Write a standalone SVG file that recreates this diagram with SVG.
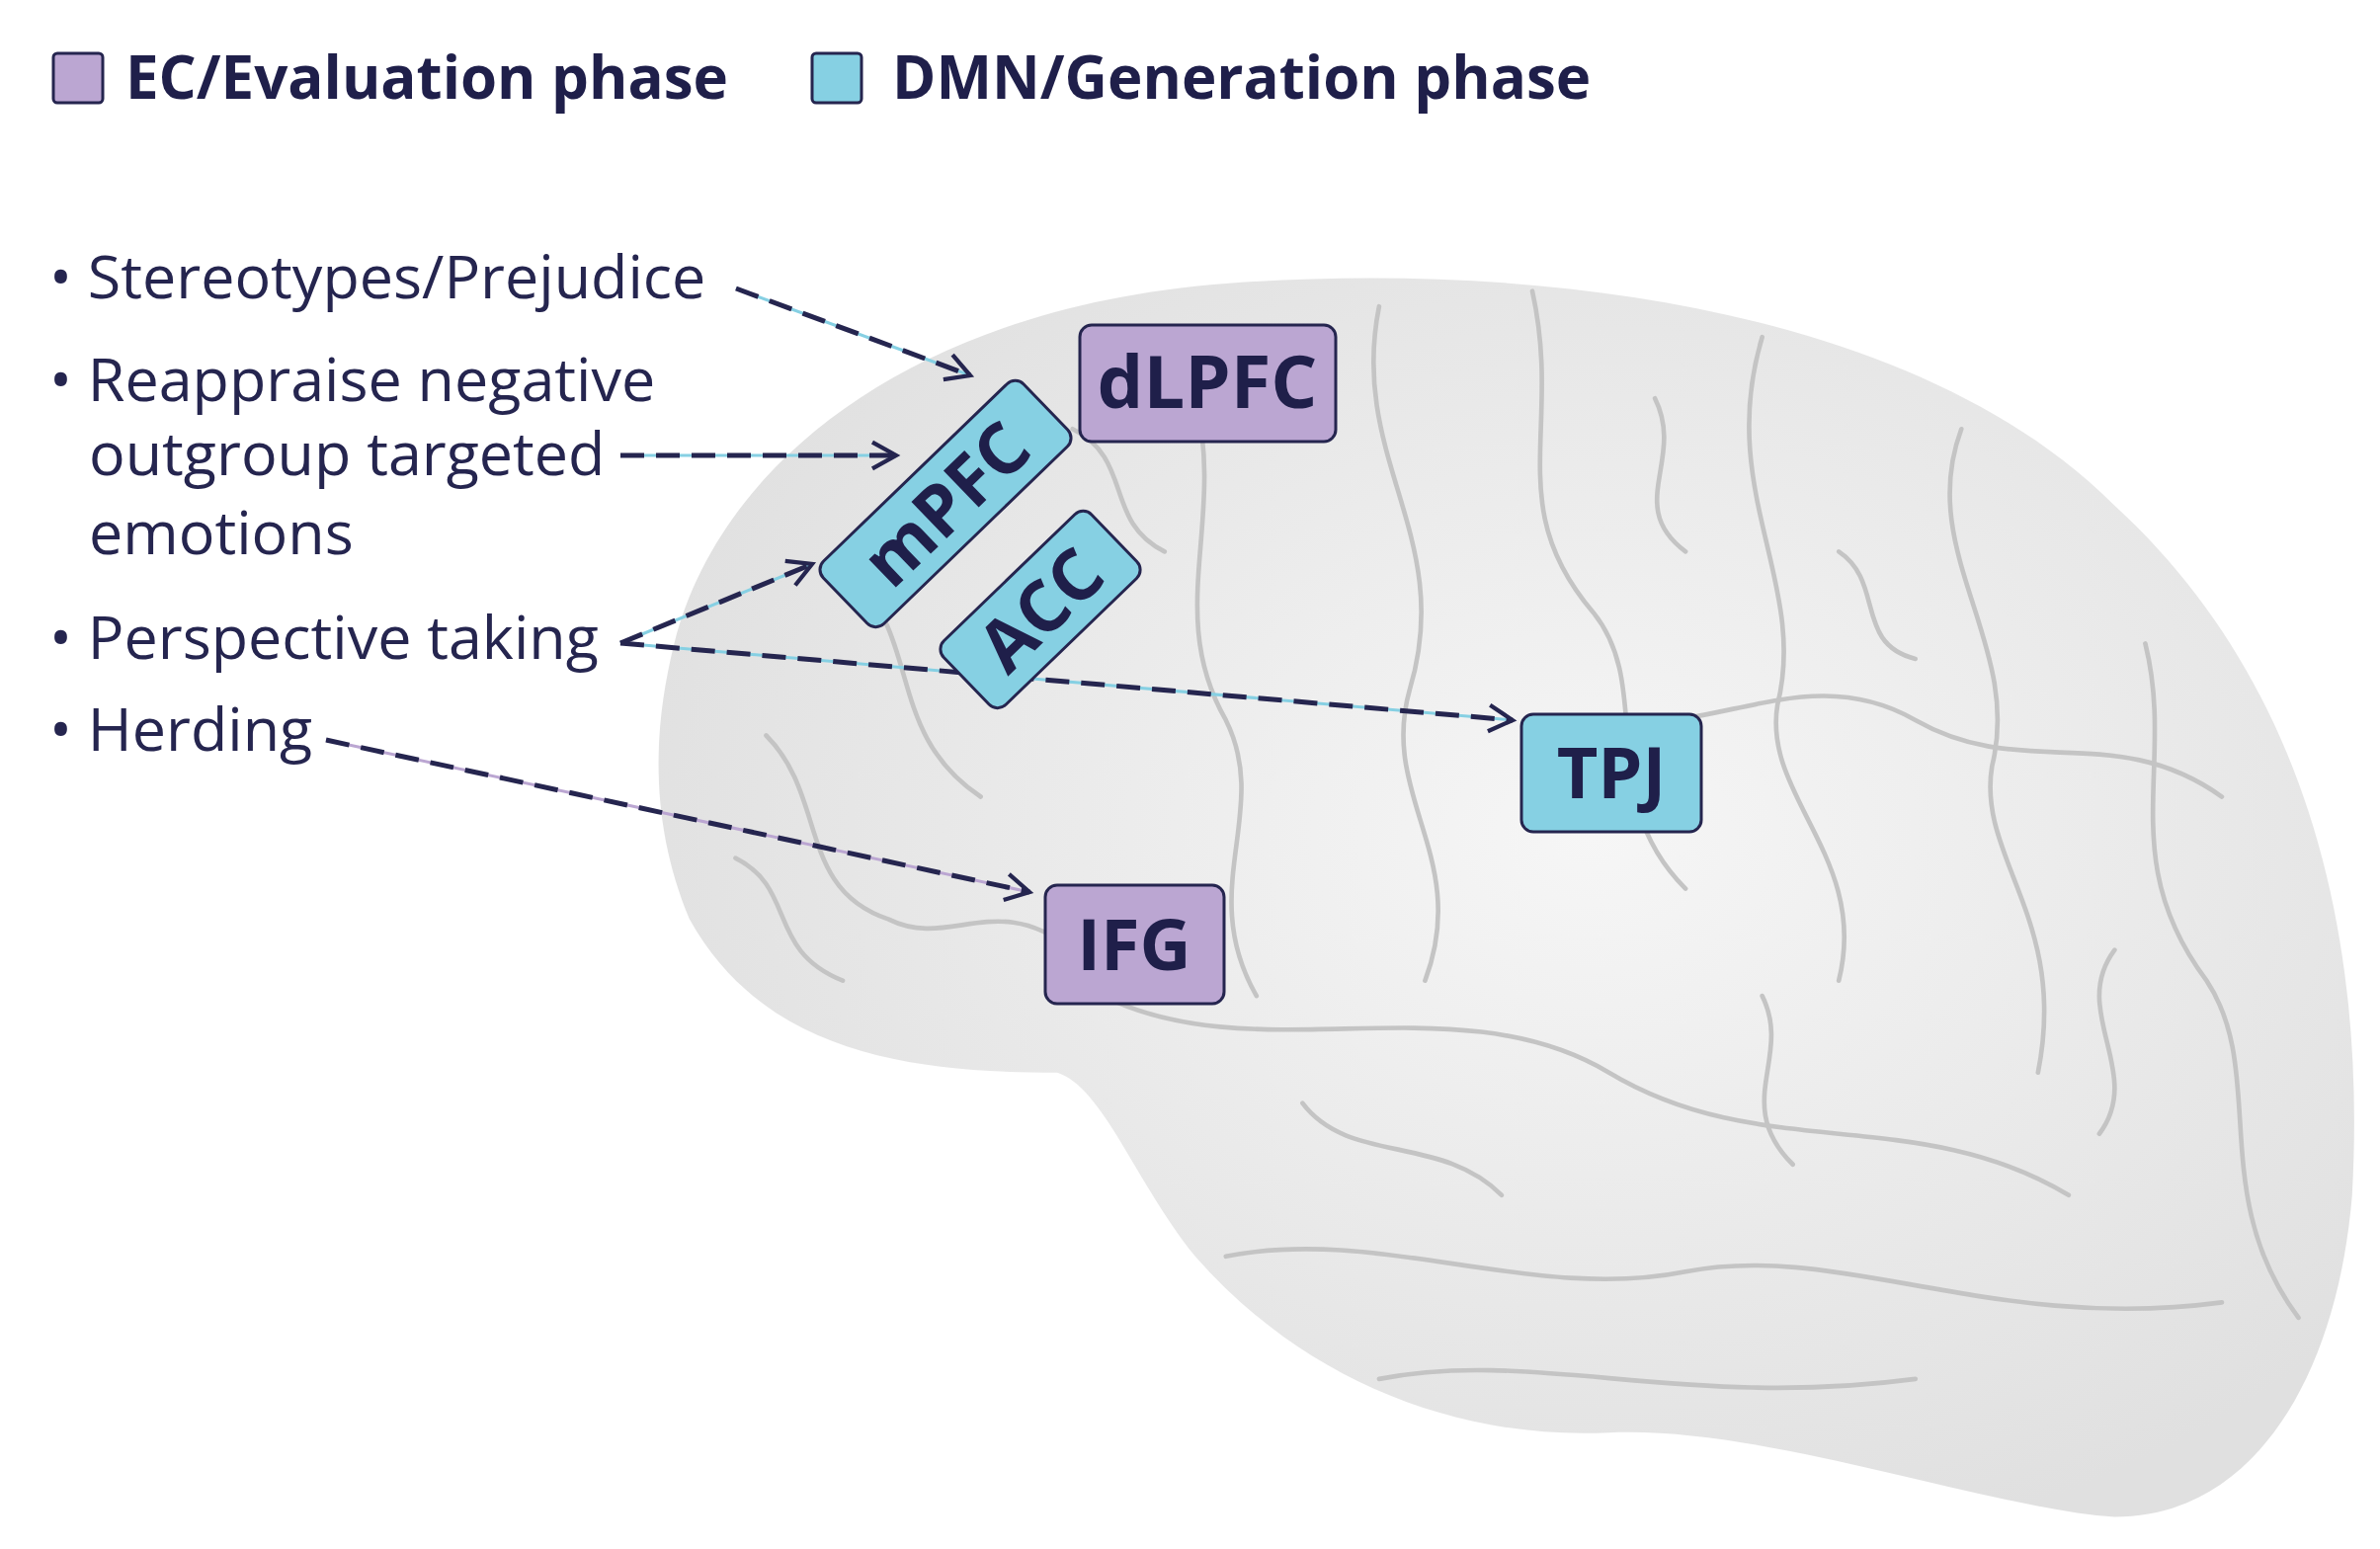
<svg xmlns="http://www.w3.org/2000/svg" width="2409" height="1568" viewBox="0 0 2409 1568">
<style>
.t{font-family:"Open Sans","Liberation Sans",sans-serif;fill:#25254f;font-size:61px}
.b{font-family:"Open Sans","Liberation Sans",sans-serif;fill:#1f1f4a;font-weight:bold}
.ec{fill:#bba6d2;stroke:#25254f;stroke-width:3}
.dmn{fill:#86d0e3;stroke:#25254f;stroke-width:3}
.dash{stroke:#25254f;stroke-width:5;stroke-dasharray:24 12;fill:none}
.gy{fill:none;stroke:#c4c4c4;stroke-linecap:round}
</style>
<defs>
<marker id="a" viewBox="0 0 12 12" refX="10" refY="6" markerWidth="32" markerHeight="32" orient="auto" markerUnits="userSpaceOnUse"><path d="M1,1 L10,6 L1,11" fill="none" stroke="#25254f" stroke-width="1.6"/></marker>
<radialGradient id="bg" cx="0.55" cy="0.45" r="0.6"><stop offset="0" stop-color="#f6f6f6"/><stop offset="1" stop-color="#e0e0e0"/></radialGradient>
</defs>
<rect width="2409" height="1568" fill="#fff"/>
<g id="brain" transform="scale(1.551)">
<path d="M440,420 C470,300 600,200 800,185 C1000,170 1250,200 1380,330 C1500,440 1545,600 1535,780 C1525,900 1470,990 1380,990 C1300,985 1150,930 1050,935 C950,940 850,900 780,820 C740,770 720,710 690,700 C600,700 500,690 450,600 C425,540 425,480 440,420 Z" fill="url(#bg)"/>
<g class="gy" stroke-width="3">
<path d="M900,200 C880,300 950,350 920,450 C900,520 960,560 930,640"/>
<path d="M1000,190 C1020,280 980,330 1040,400 C1080,450 1040,520 1100,580"/>
<path d="M1150,220 C1120,320 1180,380 1160,460 C1150,520 1220,560 1200,640"/>
<path d="M1280,280 C1250,360 1320,420 1300,500 C1290,560 1350,600 1330,700"/>
<path d="M780,260 C800,340 760,400 800,470 C830,530 780,580 820,650"/>
<path d="M720,650 C820,700 950,640 1050,700 C1150,760 1250,720 1350,780"/>
<path d="M800,820 C900,800 1000,850 1100,830 C1200,810 1300,870 1450,850"/>
<path d="M900,900 C1000,880 1100,920 1250,900"/>
<path d="M500,480 C540,520 520,580 580,600 C620,620 650,580 700,620"/>
<path d="M1400,420 C1420,500 1380,560 1440,640 C1480,700 1440,780 1500,860"/>
<path d="M1050,470 C1120,480 1180,430 1250,470 C1320,510 1380,470 1450,520"/>
<path d="M560,380 C600,420 580,480 640,520"/>
<path d="M700,280 C740,300 720,340 760,360"/>
<path d="M1080,260 C1100,300 1060,330 1100,360"/>
<path d="M1200,360 C1230,380 1210,420 1250,430"/>
<path d="M850,720 C880,760 940,740 980,780"/>
<path d="M1150,650 C1170,690 1130,720 1170,760"/>
<path d="M1380,620 C1350,660 1400,700 1370,740"/>
<path d="M480,560 C520,580 500,620 550,640"/>
</g>
</g>
<g id="legend">
<rect x="54" y="54" width="50" height="50" rx="4" class="ec"/>
<text x="127" y="100" class="b" font-size="60">EC/Evaluation phase</text>
<rect x="822" y="54" width="50" height="50" rx="4" class="dmn"/>
<text x="903" y="100" class="b" font-size="60">DMN/Generation phase</text>
</g>
<g id="labels" class="t">
<text x="50" y="302">• Stereotypes/Prejudice</text>
<text x="50" y="406">• Reappraise negative</text>
<text x="90" y="481">outgroup targeted</text>
<text x="90" y="561">emotions</text>
<text x="50" y="667">• Perspective taking</text>
<text x="50" y="760">• Herding</text>
</g>
<g id="connectors">
<g stroke-width="3" fill="none">
<path d="M745,292 L982,380" stroke="#86d0e3"/>
<path d="M628,461 L907,461" stroke="#86d0e3"/>
<path d="M628,651 L822,571" stroke="#86d0e3"/>
<path d="M628,651 L1531,729" stroke="#86d0e3"/>
<path d="M330,749 L1042,903" stroke="#bba6d2"/>
</g>
<path d="M745,292 L982,380" class="dash" marker-end="url(#a)"/>
<path d="M628,461 L907,461" class="dash" marker-end="url(#a)"/>
<path d="M628,651 L822,571" class="dash" marker-end="url(#a)"/>
<path d="M628,651 L1531,729" class="dash" marker-end="url(#a)"/>
<path d="M330,749 L1042,903" class="dash" marker-end="url(#a)"/>
</g>
<g id="dLPFC"><rect x="1093" y="329" width="259" height="118" rx="12" class="ec"/><text x="1222" y="413" class="b" font-size="74" text-anchor="middle">dLPFC</text></g>
<g id="mPFC" transform="translate(957,510) rotate(-44)"><rect x="-141" y="-44" width="282" height="88" rx="12" class="dmn"/><text x="0" y="26" class="b" font-size="72" text-anchor="middle">mPFC</text></g>
<g id="ACC" transform="translate(1053,617) rotate(-44)"><rect x="-104" y="-45" width="208" height="90" rx="12" class="dmn"/><text x="0" y="26" class="b" font-size="72" text-anchor="middle">ACC</text></g>
<g id="TPJ"><rect x="1540" y="723" width="182" height="119" rx="12" class="dmn"/><text x="1631" y="808" class="b" font-size="72" text-anchor="middle">TPJ</text></g>
<g id="IFG"><rect x="1058" y="896" width="181" height="120" rx="12" class="ec"/><text x="1148" y="982" class="b" font-size="72" text-anchor="middle">IFG</text></g>
</svg>
